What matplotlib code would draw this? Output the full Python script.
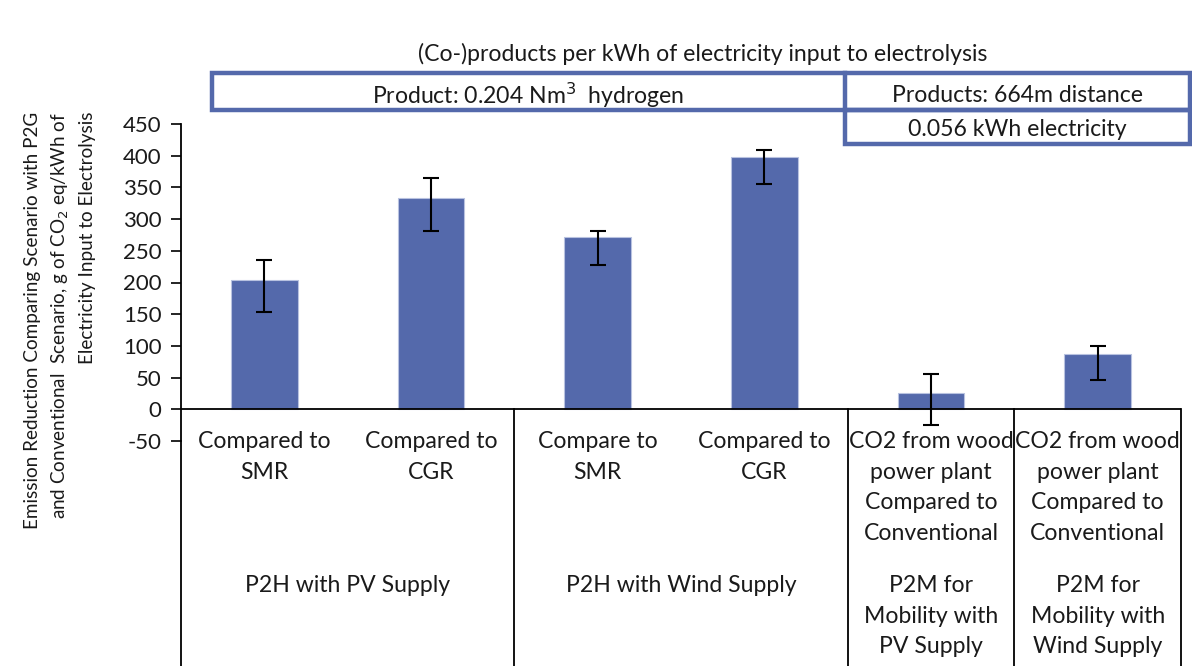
import matplotlib
matplotlib.use("Agg")
import matplotlib.pyplot as plt
from matplotlib.patches import Rectangle
from matplotlib.lines import Line2D
import matplotlib.transforms as mtrans
import numpy as np

plt.rcParams['font.family'] = ['Lato', 'DejaVu Sans']
plt.rcParams['axes.unicode_minus'] = False

categories = ["Compared to\nSMR", "Compared to\nCGR", "Compare to\nSMR", "Compared to\nCGR",
              "CO2 from wood\npower plant\nCompared to\nConventional",
              "CO2 from wood\npower plant\nCompared to\nConventional"]
groups = ["P2H with PV Supply", "P2H with Wind Supply",
          "P2M for\nMobility with\nPV Supply", "P2M for\nMobility with\nWind Supply"]
group_spans = [(0, 1), (2, 3), (4, 4), (5, 5)]
values = [204, 333, 271, 398, 26, 88]
err_upper = [236, 365, 282, 409, 56, 100]
err_lower = [153, 281, 227, 356, -25, 46]
yticks = [-50, 0, 50, 100, 150, 200, 250, 300, 350, 400, 450]

title_text = "(Co-)products per kWh of electricity input to electrolysis"
box_texts = ["Product: 0.204 Nm$^3$  hydrogen", "Products: 664m distance", "0.056 kWh electricity"]
ylabel = ("Emission Reduction Comparing Scenario with P2G\n"
          "and Conventional  Scenario, g of CO$_2$ eq/kWh of\n"
          "Electricity Input to Electrolysis")

W, H = 1192, 666
fig = plt.figure(figsize=(W / 100, H / 100), dpi=100)

def fx(px):
    return px / W

def fy(py):
    return 1 - py / H

ax_left, ax_right, ax_top, ax_bottom = 181, 1181, 124, 441
ax = fig.add_axes([fx(ax_left), fy(ax_bottom), fx(ax_right - ax_left), (ax_bottom - ax_top) / H])

bar_color = "#5469AB"
box_color = "#5469AB"
txt_color = "#1a1a1a"
fs = 16.6
ls = 1.57
x = np.arange(len(values))
vals = np.array(values)
yerr = np.array([vals - np.array(err_lower), np.array(err_upper) - vals])
ax.bar(x, vals, width=0.4, color=bar_color, edgecolor="#B8C2E0", linewidth=0.8, zorder=2)
ax.errorbar(x, vals, yerr=yerr, fmt="none", ecolor="black", elinewidth=1.5,
            capsize=6, capthick=1.5, zorder=4)

ax.set_xlim(-0.5, len(values) - 0.5)
ax.set_ylim(-50, 450)
ax.set_yticks(yticks)
ax.tick_params(axis='y', labelsize=16, length=7, width=1.2, color='black', labelcolor=txt_color, pad=7)
ax.set_xticks([])
for s in ['top', 'right', 'bottom']:
    ax.spines[s].set_visible(False)
ax.spines['left'].set_linewidth(1.3)
ax.axhline(0, color='black', lw=1.3, zorder=3)

# category dividers and spine extension
trans = ax.get_xaxis_transform()
for xd in [-0.5, 1.5, 3.5, 4.5, 5.5]:
    y0 = 0 if xd != -0.5 else -50
    y_ax = (y0 - (-50)) / 500
    line = Line2D([xd, xd], [y_ax, -(H - ax_bottom) / (ax_bottom - ax_top) - 0.01],
                  transform=trans, color='black', lw=1.3, clip_on=False)
    ax.add_line(line)

btrans = mtrans.blended_transform_factory(ax.transData, fig.transFigure)
# category labels
for i, c in enumerate(categories):
    ax.text(i, fy(431), c, transform=btrans,
            ha='center', va='top', fontsize=fs, color=txt_color, linespacing=ls)

for g, (a, b) in zip(groups, group_spans):
    xc = (a + b) / 2
    ax.text(xc, fy(575), g, transform=btrans,
            ha='center', va='top', fontsize=fs, color=txt_color, linespacing=ls)

# y label
fig.text(fx(60), fy(112), ylabel, rotation=90, ha='center', va='top', multialignment='right',
         fontsize=13.6, color=txt_color, linespacing=1.55)

# top boxes
fig.text(fx(703), fy(54), title_text, ha='center', va='center', fontsize=fs, color=txt_color)
lw = 3.2
fig.add_artist(Rectangle((fx(212), fy(110)), fx(1190 - 212), (110 - 73) / H, fill=False,
                         edgecolor=box_color, lw=lw, transform=fig.transFigure))
fig.add_artist(Line2D([fx(845), fx(845)], [fy(73), fy(110)], color=box_color, lw=lw, transform=fig.transFigure))
fig.add_artist(Rectangle((fx(845), fy(144)), fx(1190 - 845), (144 - 110) / H, fill=False,
                         edgecolor=box_color, lw=lw, transform=fig.transFigure))
fig.text(fx(528), fy(95), box_texts[0], ha='center', va='center', fontsize=fs, color=txt_color)
fig.text(fx(1017), fy(95), box_texts[1], ha='center', va='center', fontsize=fs, color=txt_color)
fig.text(fx(1017), fy(129), box_texts[2], ha='center', va='center', fontsize=fs, color=txt_color)

fig.savefig("out.png", dpi=100)
